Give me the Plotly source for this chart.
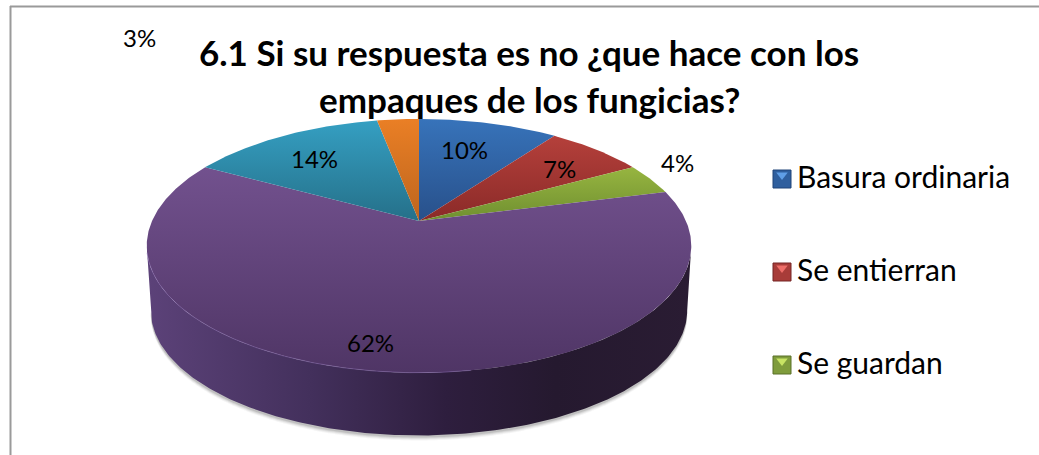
import math
import numpy as np
import plotly.graph_objects as go

# ---- data ----
categories = ["Basura ordinaria", "Se entierran", "Se guardan"]  # the rest of the legend is cut off
values = [10, 7, 4, 62, 14, 3]
title_lines = ["6.1 Si su respuesta es no ¿que hace con los", "empaques de los fungicias?"]

# ---- styles ----
top_colors = [("#3773ba", "#28508a"), ("#b5403b", "#8a2a28"), ("#97b540", "#6f8f30"),
              ("#72518e", "#4f3565"), ("#359fc2", "#257089"), ("#ea7f25", "#bd651e")]
side_stops = [[0, "#5c4279"], [0.3, "#43305c"], [0.55, "#2e1e3e"], [0.75, "#25192f"], [1, "#2a1c33"]]
legend_colors = [("#2f5f9e", "#214478", "#5f9ee6"), ("#a83c39", "#752524", "#ee6e69"),
                 ("#7f9c3c", "#5a7029", "#c8e464")]
FONT = "Lato"

# ---- perspective geometry of the disc, in page pixels ----
W, H = 1039, 455
CX, CY, A, B, K = 419.0, 221.0, 267.0, 122.0, 0.196
DEPTH, FRONT_SCALE = 65.0, 0.985


def project(t, scale=1.0, drop=0.0):
    u, v = np.sin(t), np.cos(t)
    w = 1 + K * v
    return CX + A * scale * u / w, CY - B * scale * v / w + drop


fig = go.Figure()
total = sum(values)
edges = np.cumsum([0] + values) / total * 2 * math.pi
sil_r = math.acos(-K)
sil_l = 2 * math.pi - sil_r

# soft shadow under the body
for off, alpha in [(5, 0.05), (4, 0.07), (3, 0.1), (2, 0.14)]:
    t = np.linspace(sil_r, sil_l, 200)
    x, y = project(t, FRONT_SCALE, DEPTH + off)
    fig.add_trace(go.Scatter(x=x, y=y, mode="none", fill="toself",
                             fillcolor=f"rgba(60,60,60,{alpha})", hoverinfo="skip"))

# side wall
for i in range(len(values)):
    a, b = max(edges[i], sil_r), min(edges[i + 1], sil_l)
    if b <= a:
        continue
    t = np.linspace(a, b, 240)
    x1, y1 = project(t)
    x2, y2 = project(t[::-1], FRONT_SCALE, DEPTH)
    fig.add_trace(go.Scatter(x=np.r_[x1, x2], y=np.r_[y1, y2], mode="lines", line=dict(width=0),
                             fill="toself", hoverinfo="skip",
                             fillgradient=dict(type="horizontal", colorscale=side_stops,
                                               start=CX - A * 1.02, stop=CX + A * 1.02)))

# top face
for i, val in enumerate(values):
    t = np.linspace(edges[i], edges[i + 1], max(8, int(val * 6)))
    x, y = project(t)
    x = np.r_[CX, x, CX]
    y = np.r_[CY, y, CY]
    c0, c1 = top_colors[i]
    y0, y1 = float(y.min()), float(y.max())
    fig.add_trace(go.Scatter(x=x, y=y, mode="lines", line=dict(width=0), fill="toself",
                             fillgradient=dict(type="vertical",
                                               colorscale=[[0, c1], [1, c0]],
                                               start=y1, stop=y0),
                             hoverinfo="skip"))

# light rim along the front-left of the disc
t = np.linspace(math.pi * 0.95, math.pi * 1.42, 120)
x, y = project(t)
fig.add_trace(go.Scatter(x=x, y=y, mode="lines", hoverinfo="skip",
                         line=dict(width=1, color="rgba(135,105,175,0.5)")))

# legend keys
legend_x, legend_y = [782, 782, 782], [179, 272, 365]
for i in range(len(categories)):
    c, dark, light = legend_colors[i]
    fig.add_trace(go.Scatter(x=[legend_x[i]], y=[legend_y[i]], mode="markers", hoverinfo="skip",
                             marker=dict(symbol="square", size=18, color=c,
                                         line=dict(width=1, color=dark))))
    fig.add_trace(go.Scatter(x=[legend_x[i]], y=[legend_y[i] - 4], mode="markers", hoverinfo="skip",
                             marker=dict(symbol="triangle-down", size=10, color=light,
                                         line=dict(width=0))))

ann = []
# percentage labels
label_pos = [(464, 149), (559, 168), (677, 162), (370, 342), (314, 158), (139, 37)]
for v, (px, py) in zip(values, label_pos):
    ann.append(dict(x=px, y=py, xref="x", yref="y", text=f"{v}%", showarrow=False,
                    xanchor="center", yanchor="middle",
                    font=dict(family=FONT, size=24, color="#000")))
for name, ly in zip(categories, legend_y):
    ann.append(dict(x=795, y=ly - 3, xref="x", yref="y", text=name, showarrow=False,
                    xanchor="left", yanchor="middle",
                    font=dict(family=FONT, size=30, color="#000")))
for line, ly in zip(title_lines, [52, 99]):
    ann.append(dict(x=529, y=ly, xref="x", yref="y", text=f"<b>{line}</b>", showarrow=False,
                    xanchor="center", yanchor="middle",
                    font=dict(family=FONT, size=35, color="#000")))

frame = [dict(type="line", xref="x", yref="y", x0=10, y0=6.5, x1=W, y1=6.5,
              line=dict(color="#9a9a9a", width=2)),
         dict(type="line", xref="x", yref="y", x0=10.5, y0=6, x1=10.5, y1=H,
              line=dict(color="#9a9a9a", width=2))]

fig.update_layout(
    width=W, height=H, autosize=False, showlegend=False,
    margin=dict(l=0, r=0, t=0, b=0),
    paper_bgcolor="white", plot_bgcolor="white",
    xaxis=dict(range=[0, W], visible=False, fixedrange=True),
    yaxis=dict(range=[H, 0], visible=False, fixedrange=True),
    annotations=ann, shapes=frame,
)
fig.write_html("out.html", config={"displayModeBar": False},
               post_script="document.body.style.margin='0';document.body.style.overflow='hidden';")
